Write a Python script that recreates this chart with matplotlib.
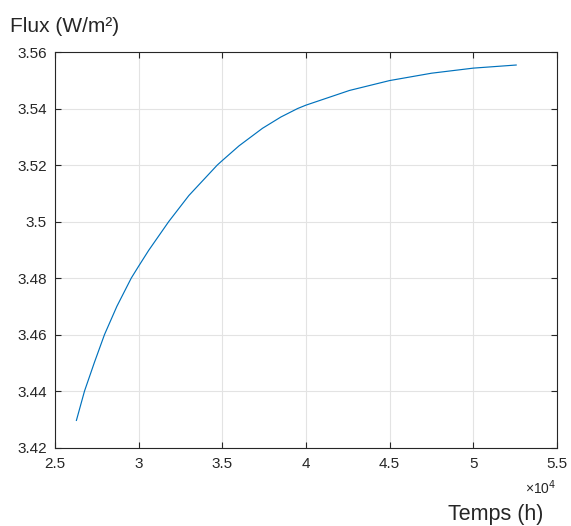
import matplotlib
matplotlib.use("Agg")
import matplotlib.pyplot as plt
from matplotlib.ticker import FuncFormatter

plt.rcParams['font.family'] = ['Liberation Sans', 'DejaVu Sans']

# values
temps = [26280, 26765, 27360, 27960, 28700, 29560, 30000, 30600, 31800, 33000,
         34700, 35000, 36000, 37400, 38500, 39500, 40000, 42600, 45000, 47500,
         50000, 52560]
flux = [3.4296, 3.4400, 3.4502, 3.4600, 3.4700, 3.4800, 3.4842, 3.4898, 3.5000, 3.5092,
        3.5200, 3.5216, 3.5268, 3.5330, 3.5370, 3.5400, 3.5412, 3.5464, 3.5499, 3.5525,
        3.5543, 3.5554]

x_ticks = [25000, 30000, 35000, 40000, 45000, 50000, 55000]
y_ticks = [3.42, 3.44, 3.46, 3.48, 3.50, 3.52, 3.54, 3.56]

dark = "#262626"

fig = plt.figure(figsize=(5.71, 5.26), dpi=100)
ax = fig.add_axes([0.0963, 0.1492, 0.8792, 0.7519])

ax.plot(temps, flux, color="#0072BD", linewidth=0.85)

ax.set_xlim(25000, 55000)
ax.set_ylim(3.42, 3.56)
ax.set_xticks(x_ticks)
ax.set_yticks(y_ticks)
ax.xaxis.set_major_formatter(FuncFormatter(lambda v, p: "%g" % (v / 1e4)))
ax.yaxis.set_major_formatter(FuncFormatter(lambda v, p: "%g" % round(v, 2)))

ax.grid(True, color="#e3e3e3", linewidth=0.8)
ax.set_axisbelow(True)
ax.tick_params(direction="in", length=4, width=0.8, colors=dark,
               labelsize=11, top=True, right=True, pad=6)
ax.tick_params(axis="x", pad=7)
for s in ax.spines.values():
    s.set_color(dark)
    s.set_linewidth(0.8)

fig.text(0.018, 0.949, "Flux (W/m²)", fontsize=15, color=dark, ha="left", va="center")
fig.text(0.952, 0.0228, "Temps (h)", fontsize=15.5, color=dark, ha="right", va="center")
fig.text(0.975, 0.072, "×10$^{4}$", fontsize=10, color=dark, ha="right", va="center")

fig.savefig("out.png", dpi=100)
